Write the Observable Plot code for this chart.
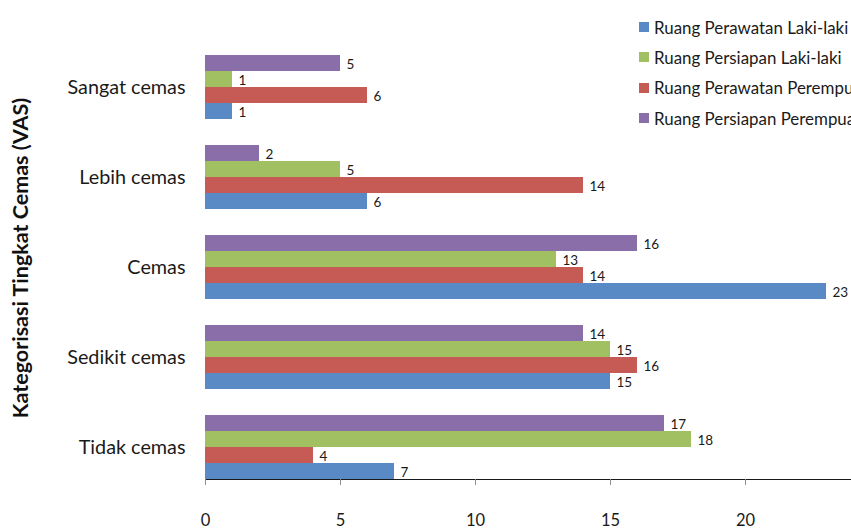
<!DOCTYPE html>
<html>
<head>
<meta charset="utf-8">
<script src="https://cdn.jsdelivr.net/npm/d3@7"></script>
<script src="https://cdn.jsdelivr.net/npm/@observablehq/plot@0.6"></script>
<style>
  html, body { margin: 0; padding: 0; background: #fff; overflow: hidden; }
  #wrap { position: relative; width: 851px; height: 531px; overflow: hidden; font-family: Lato, "Open Sans", sans-serif; }
  #wrap svg { overflow: hidden; }
  #wrap [aria-label^="x-axis"] path, #wrap [aria-label^="x-axis"] line,
  #wrap [aria-label^="fy-axis"] path, #wrap [aria-label^="fy-axis"] line { stroke: #8c8c8c; }
  #wrap [aria-label^="x-axis"] text { font-size: 16.5px; fill: #1a1a1a; }
  #wrap [aria-label^="fy-axis"] text { font-size: 19.8px; fill: #1a1a1a; }
  .ytitle { position: absolute; left: 20px; top: 258px; transform: translate(-50%, -50%) rotate(-90deg);
            font-size: 21.5px; font-weight: bold; color: #111; white-space: nowrap; }
  .legend { position: absolute; left: 639px; top: 12px; font-size: 16.9px; color: #1a1a1a; white-space: nowrap; }
  .legend .row { height: 30.3px; display: flex; align-items: center; }
  .legend .sw { width: 10px; height: 10px; margin-right: 5px; flex: none; }
</style>
</head>
<body>
<div id="wrap"></div>
<script>
// Anxiety categories (VAS), top to bottom
const categories = ["Sangat cemas", "Lebih cemas", "Cemas", "Sedikit cemas", "Tidak cemas"];

// Series in legend order
const series = ["Ruang Perawatan Laki-laki", "Ruang Persiapan Laki-laki", "Ruang Perawatan Perempuan", "Ruang Persiapan Perempuan"];
const colors = ["#5A8AC6", "#A0C062", "#C65B56", "#8A6EAA"];

// Counts per category, one array per series
const perawatanLaki      = [1, 6, 23, 15, 7];
const persiapanLaki      = [1, 5, 13, 15, 18];
const perawatanPerempuan = [6, 14, 14, 16, 4];
const persiapanPerempuan = [5, 2, 16, 14, 17];

// Order of bars inside each group, top to bottom
const barOrder = ["Ruang Persiapan Perempuan", "Ruang Persiapan Laki-laki", "Ruang Perawatan Perempuan", "Ruang Perawatan Laki-laki"];

const xTicks = [0, 5, 10, 15, 20];

const valuesBySeries = {
  "Ruang Perawatan Laki-laki": perawatanLaki,
  "Ruang Persiapan Laki-laki": persiapanLaki,
  "Ruang Perawatan Perempuan": perawatanPerempuan,
  "Ruang Persiapan Perempuan": persiapanPerempuan
};

const rows = [];
categories.forEach((category, i) => {
  series.forEach(s => rows.push({category, series: s, value: valuesBySeries[s][i]}));
});

const chart = Plot.plot({
  width: 851,
  height: 531,
  marginTop: 40,
  marginBottom: 38,
  marginLeft: 205,
  marginRight: 0,
  style: {fontFamily: "Lato, 'Open Sans', sans-serif", fontSize: "13px", background: "#fff", color: "#1a1a1a"},
  x: {domain: [0, 25], range: [205, 880], ticks: xTicks, tickSize: 6, tickPadding: 29, line: true, label: null, tickFormat: d => String(d)},
  y: {domain: barOrder, padding: 0, axis: null},
  fy: {domain: categories, paddingInner: 0.29, paddingOuter: 0.145, axis: "left", tickSize: 0, tickPadding: 20, line: true, label: null},
  color: {domain: series, range: colors},
  facet: {data: rows, y: "category"},
  marks: [
    Plot.barX(rows, {x: "value", y: "series", fill: "series"}),
    Plot.text(rows, {x: "value", y: "series", text: d => String(d.value), textAnchor: "start", dx: 6, dy: 1, fontSize: 13.5, fill: "#1a1a1a"})
  ]
});

const wrap = document.getElementById("wrap");
wrap.appendChild(chart);

const title = document.createElement("div");
title.className = "ytitle";
title.textContent = "Kategorisasi Tingkat Cemas (VAS)";
wrap.appendChild(title);

const legend = document.createElement("div");
legend.className = "legend";
series.forEach((s, i) => {
  const row = document.createElement("div");
  row.className = "row";
  const sw = document.createElement("span");
  sw.className = "sw";
  sw.style.background = colors[i];
  const label = document.createElement("span");
  label.textContent = s;
  row.appendChild(sw);
  row.appendChild(label);
  legend.appendChild(row);
});
wrap.appendChild(legend);
</script>
</body>
</html>
